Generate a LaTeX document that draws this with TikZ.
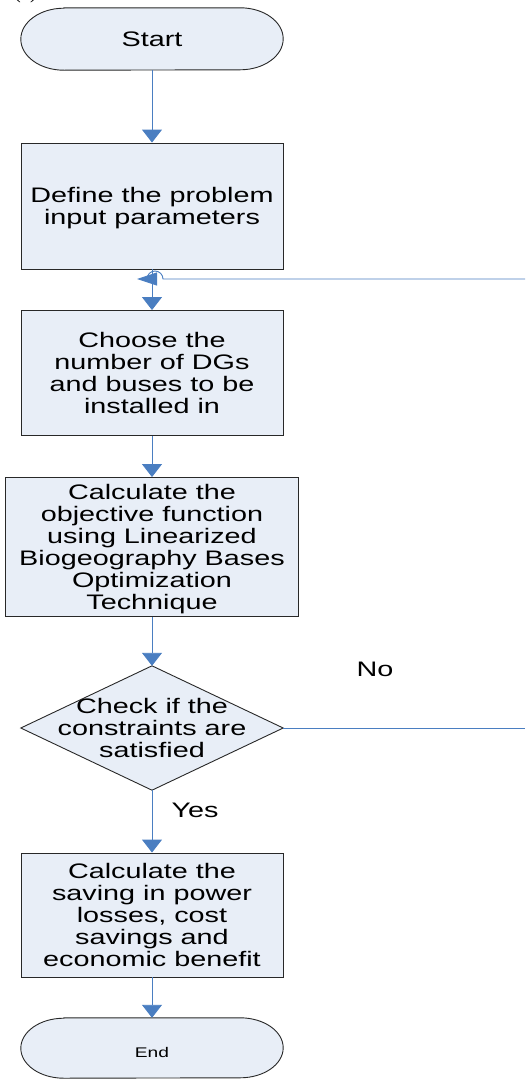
\documentclass[tikz,border=0pt]{standalone}
\usepackage{fontspec}
\setmainfont{Liberation Sans}
\newfontfamily\capfont{Liberation Serif}
\usepackage{graphicx}
\usetikzlibrary{arrows.meta,backgrounds}
\definecolor{boxfill}{RGB}{232,238,247}
\definecolor{connblue}{RGB}{74,126,193}
\definecolor{edgegray}{RGB}{40,40,40}
\newcommand{\wtxt}[1]{\raisebox{-3pt}[\height][\depth]{\scalebox{1.37}[1]{\begin{tabular}{@{}c@{}}#1\end{tabular}}}}
\begin{document}
\begin{tikzpicture}[x=1pt,y=-1pt,font=\fontsize{21}{22}\selectfont,
  box/.style={draw=edgegray, fill=boxfill, line width=0.9pt, inner sep=0pt},
  holder/.style={inner sep=0pt},
  conn/.style={draw=connblue, line width=0.9pt},
  arr/.style={conn, -{Triangle[width=20pt,length=13pt]}},
  sidearr/.style={conn, -{Triangle[width=13pt,length=20pt]}},
  lbl/.style={inner sep=0pt}]
\useasboundingbox (0,0) rectangle (525,1079);

\node[lbl] (cap) at (25.5,-6.5) {\capfont (a)};

\node[holder, minimum width=262pt, minimum height=62pt] (start) at (152,39) {\wtxt{Start}};
\node[box, minimum width=262pt, minimum height=126pt] (define) at (152,206) {\wtxt{Define the problem\\input parameters}};
\node[box, minimum width=262pt, minimum height=125pt] (choose) at (152,373) {\wtxt{Choose the\\number of DGs\\and buses to be\\installed in}};
\node[box, minimum width=293pt, minimum height=139pt] (calc) at (152,547) {\wtxt{Calculate the\\objective function\\using Linearized\\Biogeography Bases\\Optimization\\Technique}};
\node[holder, minimum width=262pt, minimum height=124pt] (check) at (152,728) {\wtxt{Check if the\\constraints are\\satisfied}};
\node[box, minimum width=262pt, minimum height=124pt] (saving) at (152,915) {\wtxt{Calculate the\\saving in power\\losses, cost\\savings and\\economic benefit}};
\node[holder, minimum width=262pt, minimum height=60pt] (end) at (152,1048) {\raisebox{-4pt}[\height][\depth]{\scalebox{1.37}[1]{\fontsize{14}{15}\selectfont End}}};

\begin{scope}[on background layer]
\path[box] ([xshift=43pt]start.north west) -- ([xshift=-43pt]start.north east)
  arc[start angle=90,end angle=-90,x radius=43pt,y radius=31pt]
  -- ([xshift=43pt]start.south west)
  arc[start angle=270,end angle=90,x radius=43pt,y radius=31pt] -- cycle;
\path[box] ([xshift=43pt]end.north west) -- ([xshift=-43pt]end.north east)
  arc[start angle=90,end angle=-90,x radius=43pt,y radius=30pt]
  -- ([xshift=43pt]end.south west)
  arc[start angle=270,end angle=90,x radius=43pt,y radius=30pt] -- cycle;
\path[box] (check.north) -- (check.east) -- (check.south) -- (check.west) -- cycle;
\end{scope}

\draw[arr] (start.south) -- (define.north);
\draw[arr] (define.south) -- (choose.north);
\draw[arr] (choose.south) -- (calc.north);
\draw[arr] (calc.south) -- (check.north);
\draw[arr] (check.south) -- (saving.north);
\draw[arr] (saving.south) -- (end.north);

\coordinate (noend) at (525,728);
\coordinate (backin) at (525,279);
\coordinate (join) at (137,279);
\draw[conn] (check.east) -- (noend);
\draw[sidearr] (backin) -- (163,279) arc[start angle=0,end angle=180,radius=8pt] -- (join);

\node[lbl] (no) at (375,669) {\wtxt{No}};
\node[lbl] (yes) at (195,810) {\wtxt{Yes}};
\end{tikzpicture}
\end{document}
